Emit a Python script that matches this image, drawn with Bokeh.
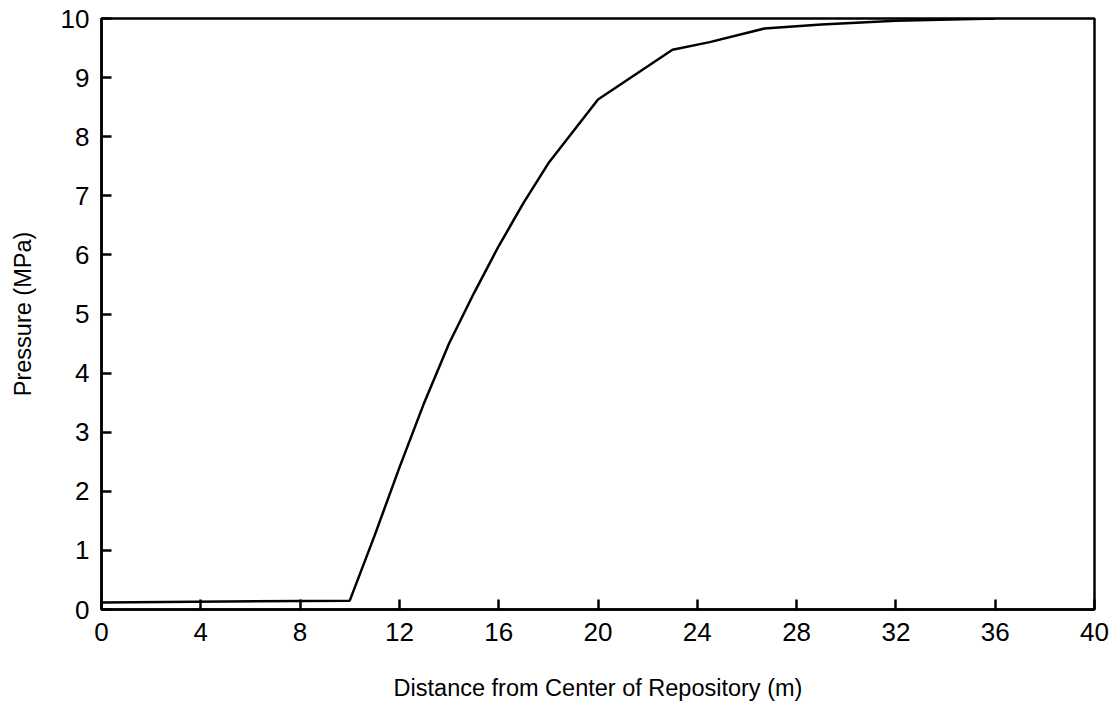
from bokeh.plotting import figure
from bokeh.models import Range1d, FixedTicker
from bokeh.embed import file_html
from bokeh.resources import INLINE

distance = [0, 10, 11, 12, 13, 14, 15, 16, 17, 18, 20, 23, 24.5, 26.7, 29, 32, 36]
pressure = [0.12, 0.15, 1.25, 2.4, 3.5, 4.5, 5.35, 6.15, 6.88, 7.55, 8.63, 9.47, 9.6, 9.83, 9.9, 9.96, 10.0]
x_ticks = [0, 4, 8, 12, 16, 20, 24, 28, 32, 36, 40]
y_ticks = [0, 1, 2, 3, 4, 5, 6, 7, 8, 9, 10]

FONT = "Liberation Sans"

p = figure(
    width=1117, height=714,
    frame_width=993, frame_height=591,
    min_border_left=101, min_border_right=23, min_border_top=18, min_border_bottom=105,
    x_range=Range1d(0, 40), y_range=Range1d(0, 10),
    output_backend="svg", toolbar_location=None,
)
p.xgrid.visible = False
p.ygrid.visible = False
p.outline_line_color = "black"
p.outline_line_width = 2.5
p.outline_line_alpha = 1

p.line(distance, pressure, line_color="black", line_width=2.5)

for ax in (p.xaxis[0], p.yaxis[0]):
    ax.axis_line_width = 2.5
    ax.axis_line_color = "black"
    ax.major_tick_in = 10
    ax.major_tick_out = 0
    ax.major_tick_line_width = 2.5
    ax.major_tick_line_color = "black"
    ax.minor_tick_line_color = None
    ax.major_label_text_font = FONT
    ax.major_label_text_font_size = "26px"
    ax.major_label_text_color = "black"
    ax.axis_label_text_font = FONT
    ax.axis_label_text_font_size = "23.5px"
    ax.axis_label_text_font_style = "normal"
    ax.axis_label_text_color = "black"

p.xaxis[0].ticker = FixedTicker(ticks=x_ticks)
p.yaxis[0].ticker = FixedTicker(ticks=y_ticks)
p.xaxis[0].axis_label = "Distance from Center of Repository (m)"
p.yaxis[0].axis_label = "Pressure (MPa)"
p.xaxis[0].major_label_standoff = 13
p.yaxis[0].major_label_standoff = 12
p.xaxis[0].axis_label_standoff = 31
p.yaxis[0].axis_label_standoff = 22

open("out.html", "w").write(file_html(p, INLINE))
